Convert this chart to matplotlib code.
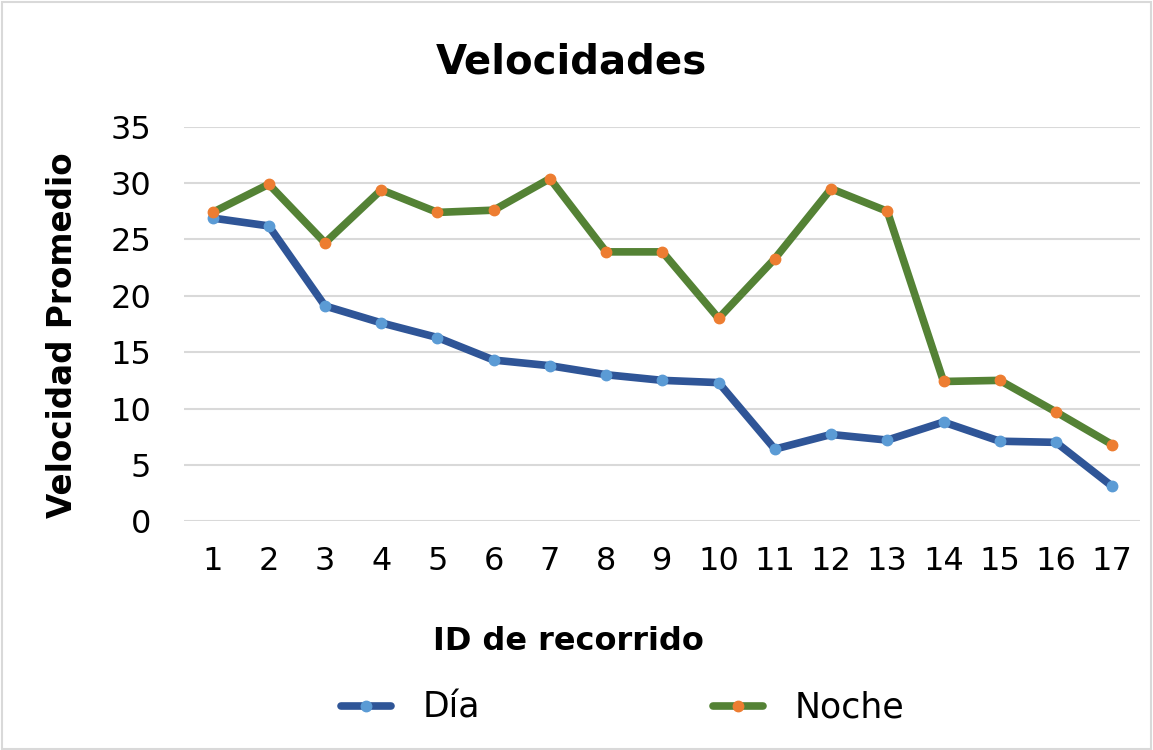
import matplotlib
matplotlib.use("Agg")
import matplotlib.pyplot as plt

recorridos = list(range(1, 18))
dia = [26.9, 26.2, 19.1, 17.6, 16.3, 14.3, 13.8, 13.0, 12.5, 12.3, 6.4, 7.7, 7.2, 8.8, 7.1, 7.0, 3.1]
noche = [27.4, 29.9, 24.7, 29.4, 27.4, 27.6, 30.4, 23.9, 23.9, 18.0, 23.3, 29.5, 27.5, 12.4, 12.5, 9.7, 6.8]
y_ticks = [0, 5, 10, 15, 20, 25, 30, 35]

plt.rcParams["font.family"] = ["DejaVu Sans"]

fig = plt.figure(figsize=(11.53, 7.5), dpi=100)
ax = fig.add_axes([0.160, 0.305, 0.829, 0.526])

ax.plot(recorridos, dia, color="#2F5597", lw=5.5, marker="o", ms=7.5,
        mfc="#5B9BD5", mec="#5B9BD5", label="Día", solid_capstyle="round")
ax.plot(recorridos, noche, color="#548235", lw=5.5, marker="o", ms=7.5,
        mfc="#ED7D31", mec="#ED7D31", label="Noche", solid_capstyle="round")

ax.set_xlim(0.5, 17.5)
ax.set_ylim(0, 35)
ax.set_xticks(recorridos)
ax.set_yticks(y_ticks)
ax.grid(axis="y", color="#D9D9D9", lw=1.5)
ax.set_axisbelow(True)
for s in ax.spines.values():
    s.set_visible(False)
ax.tick_params(axis="both", length=0, labelsize=23, colors="black")
ax.tick_params(axis="y", pad=24)
ax.tick_params(axis="x", pad=18)

fig.text(0.496, 0.917, "Velocidades", ha="center", va="center",
         fontsize=29, fontweight="bold")
fig.text(0.054, 0.553, "Velocidad Promedio", ha="center", va="center",
         rotation=90, fontsize=23.5, fontweight="bold")
fig.text(0.493, 0.144, "ID de recorrido", ha="center", va="center",
         fontsize=23, fontweight="bold")

leg = fig.legend(loc="center", bbox_to_anchor=(0.54, 0.056), ncol=2,
                 frameon=False, fontsize=25, handlelength=1.45,
                 columnspacing=6.7, handletextpad=0.9)

border = plt.Rectangle((0.002, 0.002), 0.996, 0.996, transform=fig.transFigure,
                       fill=False, edgecolor="#D9D9D9", lw=1.5)
fig.patches.append(border)

fig.savefig("out.png", dpi=100)
